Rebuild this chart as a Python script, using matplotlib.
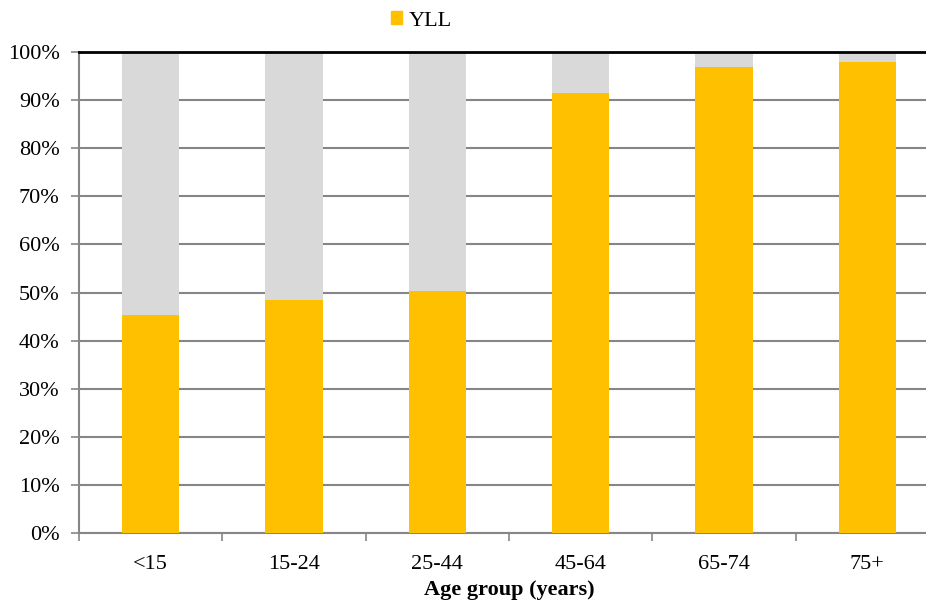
"""Share of YLL by age group, 100% stacked bars."""

import matplotlib.pyplot as plt
import numpy as np
from matplotlib.patches import Patch
from matplotlib.ticker import FuncFormatter, MultipleLocator

plt.rcParams["font.family"] = ["Liberation Serif", "DejaVu Serif"]

age_groups = ["<15", "15-24", "25-44", "45-64", "65-74", "75+"]
yll_share = [45.3, 48.4, 50.3, 91.5, 96.9, 97.9]

YLL_COLOR = "#FFC000"
REST_COLOR = "#D9D9D9"
GRID_COLOR = "#868686"
FS = 16

fig = plt.figure(figsize=(9.26, 6.04), dpi=100)
# the plot area runs past the right edge in the original, so it gets clipped
ax = fig.add_axes([79 / 926, 71 / 604, 860 / 926, 481 / 604])

x = np.arange(len(age_groups))
yll = np.array(yll_share)
rest = 100 - yll
ax.bar(x, yll, width=0.4, color=YLL_COLOR, zorder=3)
ax.bar(x, rest, width=0.4, bottom=yll, color=REST_COLOR, zorder=3)

ax.set_xlim(-0.5, len(age_groups) - 0.5)
ax.set_ylim(0, 100)
ax.yaxis.set_major_locator(MultipleLocator(10))
ax.yaxis.set_major_formatter(FuncFormatter(lambda v, _: f"{v:.0f}%"))
ax.grid(axis="y", color=GRID_COLOR, linewidth=1.5, zorder=0)
ax.axhline(100, color="black", linewidth=2, zorder=4, clip_on=False)

ax.set_xticks(x)
ax.set_xticklabels(age_groups)
ax.set_xticks(np.arange(len(age_groups) + 1) - 0.5, minor=True)
ax.tick_params(axis="x", which="major", length=0, pad=16, labelsize=FS)
ax.tick_params(axis="x", which="minor", length=6, width=1.2, color=GRID_COLOR)
ax.tick_params(axis="y", length=6, width=1.2, color=GRID_COLOR, labelsize=FS, pad=8)

for side in ("top", "right"):
    ax.spines[side].set_visible(False)
for side in ("left", "bottom"):
    ax.spines[side].set_color(GRID_COLOR)
    ax.spines[side].set_linewidth(1.5)

ax.set_xlabel("Age group (years)", fontsize=FS, fontweight="bold", labelpad=4)

fig.legend(
    handles=[Patch(color=YLL_COLOR, label="YLL")],
    loc="center",
    bbox_to_anchor=(421 / 926, 1 - 21 / 604),
    frameon=False,
    fontsize=FS,
    handlelength=0.5,
    handleheight=0.5,
    handletextpad=0.3,
)

fig.savefig("out.png", dpi=100)
